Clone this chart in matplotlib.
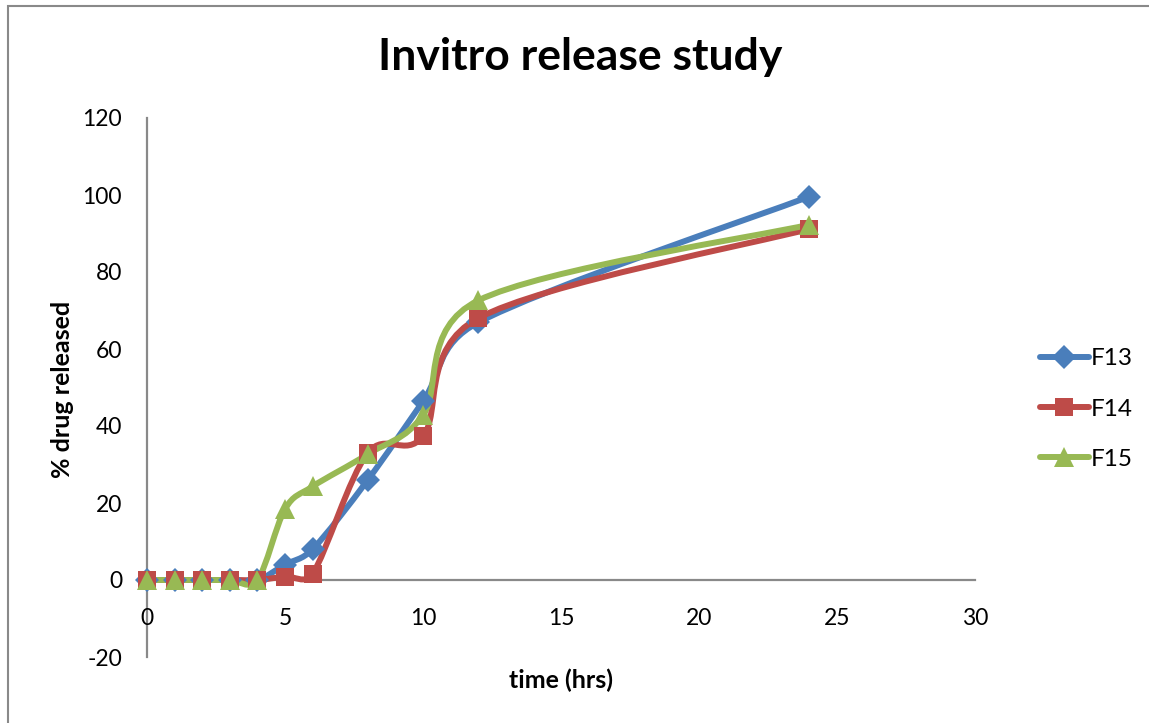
import matplotlib
matplotlib.use("Agg")
import matplotlib.pyplot as plt
from matplotlib.path import Path
from matplotlib.patches import PathPatch, Rectangle
from matplotlib.lines import Line2D
from matplotlib.transforms import IdentityTransform
import numpy as np

# ---- data ----
time_hrs = [0, 1, 2, 3, 4, 5, 6, 8, 10, 12, 24]
F13 = [0, 0, 0, 0, 0, 4.0, 8.0, 26.0, 46.4, 66.9, 99.6]
F14 = [0, 0, 0, 0, 0, 0.9, 1.6, 33.0, 37.3, 68.0, 91.2]
F15 = [0, 0, 0, 0, 0, 18.4, 24.3, 32.7, 42.8, 72.6, 92.3]
series_names = ["F13", "F14", "F15"]
x_ticks = [0, 5, 10, 15, 20, 25, 30]
y_ticks = [-20, 0, 20, 40, 60, 80, 100, 120]

colors = ["#4A7EBB", "#BE4B48", "#98B954"]
markers = ["D", "s", "^"]
msizes = [12, 13, 15]

FONT = "Lato"
plt.rcParams['font.family'] = [FONT, 'DejaVu Sans']
plt.rcParams['axes.unicode_minus'] = False

W, H = 1149, 723
fig = plt.figure(figsize=(W / 100, H / 100), dpi=100)

# axes placement in pixels
x0p, x1p = 147, 975
ytop, ybot = 118, 657
ax = fig.add_axes([x0p / W, 1 - ybot / H, (x1p - x0p) / W, (ybot - ytop) / H])
ax.set_xlim(0, 30)
ax.set_ylim(-20, 120)


def smooth_path_display(xs, ys):
    """Excel-like smoothed Bezier computed in display (pixel) space."""
    pts = ax.transData.transform(np.column_stack([xs, ys]).astype(float))
    n = len(pts)
    verts = [pts[0]]
    codes = [Path.MOVETO]
    for i in range(n - 1):
        p0 = pts[i - 1] if i > 0 else pts[i]
        p1 = pts[i]
        p2 = pts[i + 1]
        p3 = pts[i + 2] if i + 2 < n else pts[i + 1]
        d12 = np.linalg.norm(p2 - p1)
        d02 = np.linalg.norm(p2 - p0)
        d13 = np.linalg.norm(p3 - p1)
        f1 = 1 / 6.0
        f2 = 1 / 6.0
        if d02 / 6.0 > d12 / 2.0 and d02 > 0:
            f1 = d12 / (2.0 * d02)
        if d13 / 6.0 > d12 / 2.0 and d13 > 0:
            f2 = d12 / (2.0 * d13)
        c1 = p1 + f1 * (p2 - p0)
        c2 = p2 - f2 * (p3 - p1)
        verts += [c1, c2, p2]
        codes += [Path.CURVE4] * 3
    return Path(verts, codes)


all_series = [F13, F14, F15]
for ys, c in zip(all_series, colors):
    patch = PathPatch(smooth_path_display(time_hrs, ys), facecolor='none',
                      edgecolor=c, lw=4.3, capstyle='round', joinstyle='round',
                      zorder=3, transform=IdentityTransform())
    ax.add_patch(patch)
for ys, c, m, ms in zip(all_series, colors, markers, msizes):
    ax.plot(time_hrs, ys, linestyle='none', marker=m, color=c, markersize=ms,
            markeredgewidth=0, zorder=4, clip_on=False)

# spines
for s in ["top", "right"]:
    ax.spines[s].set_visible(False)
ax.spines["left"].set_position(("data", 0))
ax.spines["bottom"].set_position(("data", 0))
for s in ["left", "bottom"]:
    ax.spines[s].set_color("#898989")
    ax.spines[s].set_linewidth(1.6)
    ax.spines[s].set_zorder(1)

ax.set_xticks(x_ticks)
ax.set_yticks(y_ticks)
ax.tick_params(axis='both', length=0, labelsize=16.5)
ax.tick_params(axis='x', pad=20)
ax.tick_params(axis='y', pad=18)

# axis labels
fig.text(561 / W, 1 - 680 / H, "time (hrs)", ha='center', va='center',
         fontsize=18, fontweight='bold')
fig.text(62 / W, 1 - 389 / H, "% drug released", ha='center', va='center',
         fontsize=18, fontweight='bold', rotation=90)

# title
fig.text(580 / W, 1 - 57 / H, "Invitro release study", ha='center', va='center',
         fontsize=32, fontweight='bold')

# legend
handles = [Line2D([0], [0], color=c, lw=4.3, marker=m, markersize=ms,
                  markeredgewidth=0, solid_capstyle='round')
           for c, m, ms in zip(colors, markers, msizes)]
leg = fig.legend(handles, series_names, loc='center left',
                 bbox_to_anchor=(1028 / W, 1 - 409 / H), frameon=False,
                 fontsize=17.5, handlelength=2.0, handletextpad=0.1,
                 labelspacing=1.2, borderpad=0)

# outer border
fig.patches.append(Rectangle((8 / W, -0.05), 1.2, 1 - 6 / H + 0.05,
                             transform=fig.transFigure, fill=False,
                             edgecolor="#898989", lw=1.5))

fig.savefig("out.png", dpi=100)
